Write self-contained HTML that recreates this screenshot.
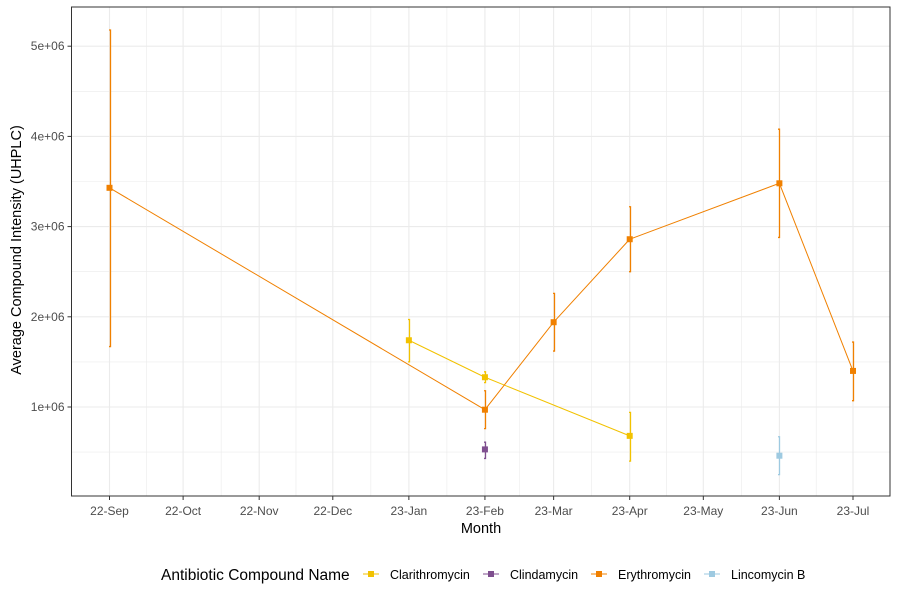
<!DOCTYPE html>
<html><head><meta charset="utf-8"><style>
body{margin:0;background:#fff;font-family:"Liberation Sans",Arial,sans-serif}
svg text{font-family:"Liberation Sans",Arial,sans-serif}
</style></head><body>
<svg id="chart" width="900" height="600">
<g id="grid"></g>
<g id="axes"></g>
<g id="series"></g>
<text x="481" y="533" font-size="14.5" text-anchor="middle" fill="#000">Month</text>
<text transform="translate(21,250) rotate(-90)" font-size="14.5" text-anchor="middle" fill="#000">Average Compound Intensity (UHPLC)</text>
<g id="legend"></g>
</svg>
<script>
const monthLabels=["22-Sep","22-Oct","22-Nov","22-Dec","23-Jan","23-Feb","23-Mar","23-Apr","23-May","23-Jun","23-Jul"];
const monthDates=["2022-09-01","2022-10-01","2022-11-01","2022-12-01","2023-01-01","2023-02-01","2023-03-01","2023-04-01","2023-05-01","2023-06-01","2023-07-01"];
const yTicks=[1e6,2e6,3e6,4e6,5e6];
const yTickLabels=["1e+06","2e+06","3e+06","4e+06","5e+06"];
const compounds=["Clarithromycin","Clindamycin","Erythromycin","Lincomycin B"];
const colors=["#f2c200","#7f4f8f","#f08000","#9ecae1"];
const clarDates=["2023-01-01","2023-02-01","2023-04-01"];
const clarMean=[1.74e6,1.33e6,0.68e6];
const clarLo=[1.5e6,1.27e6,0.4e6];
const clarHi=[1.97e6,1.39e6,0.94e6];
const clinDates=["2023-02-01"];
const clinMean=[0.53e6];
const clinLo=[0.43e6];
const clinHi=[0.61e6];
const eryDates=["2022-09-01","2023-02-01","2023-03-01","2023-04-01","2023-06-01","2023-07-01"];
const eryMean=[3.43e6,0.97e6,1.94e6,2.86e6,3.48e6,1.4e6];
const eryLo=[1.67e6,0.76e6,1.62e6,2.5e6,2.88e6,1.07e6];
const eryHi=[5.18e6,1.18e6,2.26e6,3.22e6,4.08e6,1.72e6];
const linDates=["2023-06-01"];
const linMean=[0.46e6];
const linLo=[0.25e6];
const linHi=[0.67e6];

const NS="http://www.w3.org/2000/svg";
const L=71.5,R=890,T=7,B=496;
const d0=Date.parse("2022-09-01"),d1=Date.parse("2023-07-01");
function xs(d){return 109.5+(Date.parse(d)-d0)/(d1-d0)*743.5;}
function ys(v){return 407-(v-1e6)/1e6*90.2;}
function mk(p,tag,a){const e=document.createElementNS(NS,tag);for(const k in a)e.setAttribute(k,a[k]);p.appendChild(e);return e;}
const grid=document.getElementById('grid'),axes=document.getElementById('axes'),ser=document.getElementById('series'),leg=document.getElementById('legend');
mk(grid,'rect',{x:L,y:T,width:R-L,height:B-T,fill:'#fff'});
for(let i=0;i<monthDates.length-1;i++){const x=(xs(monthDates[i])+xs(monthDates[i+1]))/2;const g=mk(grid,'line',{x1:x,x2:x,y1:T,y2:B,stroke:'#ebebeb','stroke-width':0.6});}
for(let i=0;i<yTicks.length;i++){const y=ys(yTicks[i]-5e5);const g=mk(grid,'line',{x1:L,x2:R,y1:y,y2:y,stroke:'#ebebeb','stroke-width':0.6});}
monthDates.forEach((d,i)=>{const x=xs(d);
 const g=mk(grid,'line',{x1:x,x2:x,y1:T,y2:B,stroke:'#ebebeb','stroke-width':1.1});
 mk(axes,'line',{x1:x,x2:x,y1:B,y2:B+4,stroke:'#333'});
 const t=mk(axes,'text',{x:x,y:B+19,'font-size':12,'text-anchor':'middle',fill:'#4d4d4d'});t.textContent=monthLabels[i];
 });
yTicks.forEach((v,i)=>{const y=ys(v);
 const g=mk(grid,'line',{x1:L,x2:R,y1:y,y2:y,stroke:'#ebebeb','stroke-width':1.1});
 mk(axes,'line',{x1:L-4,x2:L,y1:y,y2:y,stroke:'#333'});
 const t=mk(axes,'text',{x:L-7,y:y+4,'font-size':12,'text-anchor':'end',fill:'#4d4d4d'});t.textContent=yTickLabels[i];
 });
mk(axes,'rect',{x:L,y:T,width:R-L,height:B-T,fill:'none',stroke:'#333','stroke-width':1});
const S=[[clarDates,clarMean,clarLo,clarHi],[clinDates,clinMean,clinLo,clinHi],[eryDates,eryMean,eryLo,eryHi],[linDates,linMean,linLo,linHi]];
S.forEach((s,k)=>{const [d,m,lo,hi]=s;const c=colors[k];const g=mk(ser,'g',{});
 
 if(d.length>1){const pl=mk(g,'polyline',{points:d.map((x,i)=>xs(x)+','+ys(m[i])).join(' '),fill:'none',stroke:c,'stroke-width':1});
  }
 d.forEach((x,i)=>{const px=Math.round(xs(x))+0.5;
  const e=mk(g,'path',{d:`M${px-1.5},${ys(hi[i])}H${px}V${ys(lo[i])}H${px-1.5}`,fill:'none',stroke:c,'stroke-width':1.3});
  
  const p=mk(g,'rect',{x:xs(x)-3,y:ys(m[i])-3,width:6,height:6,fill:c});
  });
});
const lt=mk(leg,'text',{x:161,y:580,'font-size':15.5,fill:'#000'});lt.textContent="Antibiotic Compound Name";

const lx=[371,491,599,712];
compounds.forEach((n,k)=>{const g=mk(leg,'g',{});
 mk(g,'line',{x1:lx[k]-8,x2:lx[k]+8,y1:574,y2:574,stroke:colors[k],'stroke-width':1});
 mk(g,'rect',{x:lx[k]-3,y:571,width:6,height:6,fill:colors[k]});
 const t=mk(g,'text',{x:lx[k]+19,y:579,'font-size':12.5,fill:'#000'});t.textContent=n;});
</script>
</body></html>
